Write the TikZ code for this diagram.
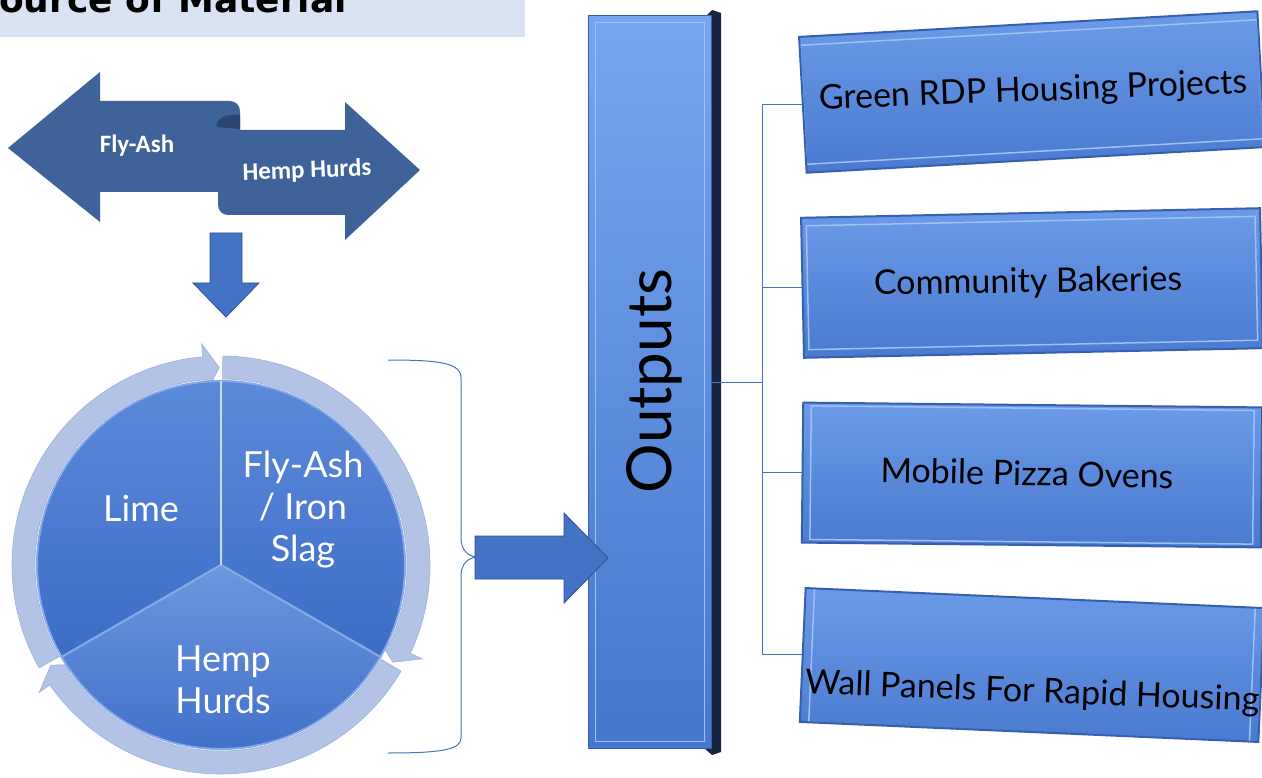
\documentclass[tikz,border=0pt]{standalone}
\usepackage{fontspec}
\setmainfont{Lato}
\newfontfamily\titlefont{DejaVu Sans}
\newfontfamily\calfont{Carlito}
\usetikzlibrary{calc}
\definecolor{bannerbg}{HTML}{DAE3F3}
\definecolor{darrow}{HTML}{3E6399}
\definecolor{darrowdark}{HTML}{2B4670}
\definecolor{arrowblue}{HTML}{4472C4}
\definecolor{arrowedge}{HTML}{2F528F}
\definecolor{pietop}{HTML}{5C8ADA}
\definecolor{piebot}{HTML}{3C6CC7}
\definecolor{piesep}{HTML}{86A9E8}
\definecolor{ringc}{HTML}{B3C3E5}
\definecolor{ringedge}{HTML}{9DB1DC}
\definecolor{linec}{HTML}{4472C4}
\definecolor{boxtop}{HTML}{6B9AE8}
\definecolor{boxbot}{HTML}{4A7AD0}
\definecolor{boxedge}{HTML}{3560B0}
\definecolor{bevelc}{HTML}{9EC0F4}
\definecolor{bartop}{HTML}{76A6F0}
\definecolor{barbot}{HTML}{4677CC}
\definecolor{barshadow}{HTML}{16243F}
\tikzset{
  conn/.style={draw=linec, line width=1pt},
  blockarrow/.style={fill=arrowblue, draw=arrowedge, line width=0.8pt},
  outbox/.style={minimum width=459pt, minimum height=136pt, inner sep=0pt,
    top color=boxtop, bottom color=boxbot, draw=boxedge, line width=2pt,
    path picture={\draw[bevelc, line width=1.5pt]
      ([shift={(8pt,8pt)}]path picture bounding box.south west) rectangle
      ([shift={(-8pt,-8pt)}]path picture bounding box.north east);}},
  boxtext/.style={font=\fontsize{34}{40}\selectfont, text=black, inner sep=0pt},
  pietext/.style={font=\fontsize{36}{42}\selectfont, text=white, align=center, inner sep=0pt},
  ringarc/.style={fill=ringc, draw=ringedge, line width=0.6pt},
}
\begin{document}
\begin{tikzpicture}[x=1pt,y=1pt]
\useasboundingbox (0,0) rectangle (1262,-778);
\fill[white] (0,0) rectangle (1262,-778);

% title banner
\fill[bannerbg] (0,0) rectangle (525,-37);
\node[anchor=base west, inner sep=0pt, font=\titlefont\bfseries\fontsize{36}{40}\selectfont] (title) at (-27,-13) {Source of Material};

% double scroll arrow
\fill[darrow] (8,-148) -- (100,-72) -- (100,-101) -- (230,-101) to[out=0,in=90] (240,-111) -- (240,-130)
  -- (345,-130) -- (345,-102) -- (420,-170) -- (345,-240) -- (345,-215) -- (228,-215)
  to[out=180,in=-90] (218,-205) -- (218,-192) -- (100,-192) -- (100,-222) -- cycle;
\fill[darrowdark] (240,-115) .. controls (226,-113) and (215,-119) .. (217,-127) -- (240,-129) -- cycle;
\node[font=\calfont\bfseries\fontsize{25}{30}\selectfont, text=white, inner sep=0pt] (flyash) at (137,-146) {Fly-Ash};
\node[font=\calfont\bfseries\fontsize{25}{30}\selectfont, text=white, inner sep=0pt, rotate=2] (hemp) at (307,-171) {Hemp Hurds};

% down arrow
\filldraw[blockarrow] (210,-233) -- (242,-233) -- (242,-283) -- (259,-283) -- (226,-317) -- (193,-283) -- (210,-283) -- cycle;

% cycle: ring arrows
\begin{scope}[shift={(221,-565)}]
  \filldraw[ringarc] (209.5:209) arc[start angle=209.5,end angle=95,radius=209] -- (95:222) -- (90.5:197.5) -- (95:173) -- (95:186) arc[start angle=95,end angle=209.5,radius=186] -- cycle;
  \filldraw[ringarc] (89.5:209) arc[start angle=89.5,end angle=-25,radius=209] -- (-25:222) -- (-29.5:197.5) -- (-25:173) -- (-25:186) arc[start angle=-25,end angle=89.5,radius=186] -- cycle;
  \filldraw[ringarc] (329.5:209) arc[start angle=329.5,end angle=215,radius=209] -- (215:222) -- (210.5:197.5) -- (215:173) -- (215:186) arc[start angle=215,end angle=329.5,radius=186] -- cycle;
  % pie
  \shade[top color=pietop, bottom color=piebot, draw=piesep, line width=2pt] (0,0) -- (90:184) arc[start angle=90,end angle=210,radius=184] -- cycle;
  \shade[top color=pietop, bottom color=piebot, draw=piesep, line width=2pt] (0,0) -- (-30:184) arc[start angle=-30,end angle=90,radius=184] -- cycle;
  \shade[top color=pietop!90!white, bottom color=piebot, draw=piesep, line width=2pt] (0,0) -- (210:184) arc[start angle=210,end angle=330,radius=184] -- cycle;
  \draw[white!70!pietop, line width=2.5pt] (0,0) -- (90:184);
\end{scope}
\node[pietext] (lime) at (141,-508) {Lime};
\node[pietext] (flyslag) at (303,-510) {Fly-Ash\\/ Iron\\Slag};
\node[pietext] (hemppie) at (223,-680) {Hemp\\Hurds};

% brace
\draw[conn] (388,-360) .. controls (440,-360) and (461,-363) .. (461,-378) -- (461,-538)
  .. controls (461,-551) and (469,-556) .. (476,-557)
  .. controls (469,-558) and (461,-563) .. (461,-576) -- (461,-738)
  .. controls (461,-750) and (440,-753) .. (388,-753);

% outputs bar
\fill[barshadow] (704,-18) -- (712,-10) -- (721,-13) -- (721,-752) -- (712,-755) -- (704,-748) -- cycle;
\node[minimum width=123pt, minimum height=733pt, inner sep=0pt, top color=bartop, bottom color=barbot,
  draw=boxedge, line width=1.5pt,
  path picture={\draw[bevelc, line width=1.2pt]
      ([shift={(7pt,7pt)}]path picture bounding box.south west) rectangle
      ([shift={(-7pt,-7pt)}]path picture bounding box.north east);}] (outputs) at (650,-382) {};
\node[rotate=90, font=\fontsize{62}{70}\selectfont, text=black, inner sep=0pt] (outlabel) at (654,-381) {Outputs};

% output boxes
\node[outbox, rotate=3.2] (b1) at (1032,-92) {};
\node[outbox, rotate=1.2, minimum height=140pt] (b2) at (1032,-283) {};
\node[outbox, rotate=-0.6, minimum height=140pt] (b3) at (1032,-475) {};
\node[outbox, rotate=-2.5, minimum height=134pt] (b4) at (1032,-665) {};
\node[boxtext, rotate=2.2] (t1) at (1033,-92) {Green RDP Housing Projects};
\node[boxtext, rotate=0.8] (t2) at (1028,-283) {Community Bakeries};
\node[boxtext, rotate=-1.2] (t3) at (1027,-473) {Mobile Pizza Ovens};
\node[boxtext, rotate=-2.2, anchor=west] (t4) at (805,-684) {Wall Panels For Rapid Housing};

% connectors
\coordinate (trunk) at (762,-382);
\draw[conn] (outputs.east) -- (trunk);
\draw[conn] (trunk) |- (b1.west);
\draw[conn] (trunk) |- (b2.west);
\draw[conn] (trunk) |- (b3.west);
\draw[conn] (trunk) |- (b4.west);

% right block arrow
\filldraw[blockarrow] (475,-536) -- (564,-536) -- (564,-513) -- (608,-558) -- (564,-603) -- (564,-579) -- (475,-579) -- cycle;
\end{tikzpicture}
\end{document}
